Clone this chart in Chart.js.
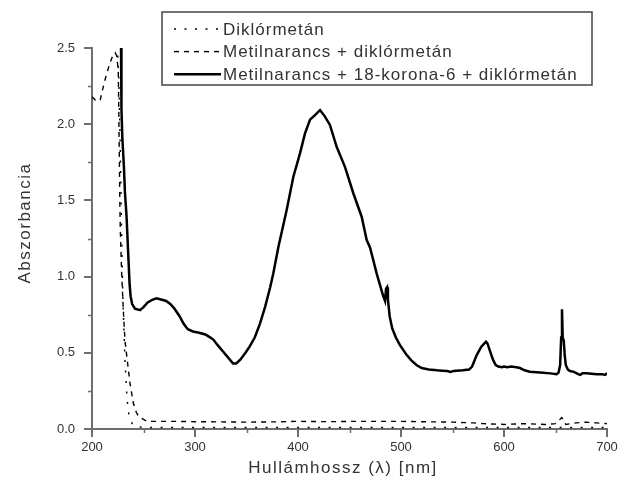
<!DOCTYPE html>
<html><head><meta charset="utf-8">
<script src="https://cdn.jsdelivr.net/npm/chart.js@4/dist/chart.umd.min.js"></script>
<style>html,body{margin:0;padding:0;background:#fff}</style>
</head><body>
<canvas id="c" width="621" height="487"></canvas>
<script>
const seriesLabels = ['Diklórmetán', 'Metilnarancs + diklórmetán', 'Metilnarancs + 18-korona-6 + diklórmetán'];
const xTitle = 'Hullámhossz (λ) [nm]';
const yTitle = 'Abszorbancia';

// Diklórmetán (dotted)
const dcmX = [225, 226, 227, 228, 229, 230, 232, 234, 236, 240, 250, 300, 350, 400, 450, 500, 550, 600, 650, 700];
const dcmY = [2.45, 2.3, 2.0, 1.6, 1.2, 0.85, 0.45, 0.2, 0.08, 0.02, 0.01, 0.01, 0.01, 0.01, 0.01, 0.01, 0.01, 0.01, 0.01, 0.01];

// Metilnarancs + diklórmetán (dashed)
const moX = [200, 203, 206, 208, 210, 213, 216, 219, 221, 222.5, 224, 225.5, 226, 226.5, 227, 227.5, 228.8, 230.4, 232, 234.6, 236.9, 240.1, 243, 245, 248.2, 252, 258, 270, 280, 300, 320, 350, 380, 400, 430, 450, 480, 500, 520, 550, 570, 580, 600, 620, 640, 650, 654, 656, 658, 660, 670, 680, 690, 700];
const moY = [2.18, 2.16, 2.15, 2.16, 2.22, 2.3, 2.37, 2.43, 2.46, 2.47, 2.45, 2.35, 2.1, 1.8, 1.5, 1.3, 1.02, 0.78, 0.58, 0.43, 0.30, 0.17, 0.11, 0.085, 0.07, 0.055, 0.05, 0.05, 0.05, 0.048, 0.047, 0.045, 0.047, 0.05, 0.048, 0.05, 0.05, 0.05, 0.048, 0.045, 0.04, 0.035, 0.03, 0.035, 0.03, 0.035, 0.06, 0.075, 0.06, 0.03, 0.04, 0.045, 0.04, 0.035];

// Metilnarancs + 18-korona-6 + diklórmetán (solid)
const crX = [228.2, 228.6, 229.5, 231, 232, 233.5, 234.5, 235.5, 236.5, 237.5, 239, 241.7, 246.6, 250, 254, 258, 262.5, 267, 272, 276, 280, 285, 289, 293, 298, 304, 310, 315, 318, 322, 327, 332, 337, 340, 344, 349, 353, 358, 363, 368, 373, 376, 381, 389, 395.5, 402, 406.8, 411.7, 416.5, 421.4, 426.2, 431, 437.6, 445.6, 453.7, 461.8, 466.7, 470, 476.4, 482.8, 484.5, 485.5, 486.5, 487.3, 489, 491.5, 495, 499, 505, 510, 515, 520, 527, 535, 540, 545, 548, 551, 560, 566, 569, 573.5, 578, 582.5, 584, 587, 589.6, 592, 594.5, 598, 600, 603, 607, 612, 615.5, 620, 625, 635, 645, 651, 653, 654.5, 655.5, 656.3, 657, 658, 659, 660, 662, 664, 668, 672, 674, 676, 680, 690, 695, 698, 700];
const crY = [2.5, 2.1, 1.9, 1.72, 1.55, 1.4, 1.25, 1.1, 0.95, 0.87, 0.82, 0.79, 0.78, 0.8, 0.83, 0.846, 0.857, 0.85, 0.84, 0.82, 0.79, 0.74, 0.69, 0.655, 0.64, 0.632, 0.62, 0.6, 0.585, 0.55, 0.51, 0.47, 0.43, 0.43, 0.455, 0.5, 0.54, 0.6, 0.69, 0.8, 0.93, 1.02, 1.196, 1.437, 1.655, 1.81, 1.94, 2.03, 2.06, 2.093, 2.05, 1.995, 1.85, 1.72, 1.547, 1.393, 1.24, 1.19, 1.02, 0.87, 0.84, 0.92, 0.93, 0.85, 0.74, 0.66, 0.6, 0.55, 0.49, 0.45, 0.42, 0.40, 0.39, 0.385, 0.383, 0.38, 0.375, 0.38, 0.385, 0.39, 0.41, 0.485, 0.54, 0.573, 0.56, 0.5, 0.45, 0.42, 0.41, 0.405, 0.41, 0.405, 0.41, 0.405, 0.40, 0.385, 0.376, 0.37, 0.365, 0.36, 0.37, 0.42, 0.6, 0.785, 0.6, 0.58, 0.48, 0.42, 0.39, 0.38, 0.375, 0.36, 0.355, 0.365, 0.365, 0.36, 0.36, 0.355, 0.365];

const xMin = 200, xMax = 700, xStep = 100;
const yMin = 0, yMax = 2.5, yStep = 0.5;

const pts = (xs, ys) => xs.map((x, i) => ({x, y: ys[i]}));
const FONT = "'Liberation Sans', Arial, sans-serif";
const AXIS = '#6e6e6e';
const TEXT = '#333';

const styles = [
  {borderDash: [2, 8.5], borderWidth: 1.4},
  {borderDash: [5, 5], borderWidth: 1.4},
  {borderDash: [], borderWidth: 2.5}
];

const minorTicks = {
  id: 'minorTicks',
  beforeDatasetsDraw(chart) {
    const ctx = chart.ctx, xs = chart.scales.x, ys = chart.scales.y, a = chart.chartArea;
    ctx.save();
    ctx.strokeStyle = AXIS; ctx.lineWidth = 1.5;
    ctx.beginPath();
    for (let v = xMin + xStep / 2; v < xMax; v += xStep) {
      const px = Math.round(xs.getPixelForValue(v)) + 0.5;
      ctx.moveTo(px, a.bottom); ctx.lineTo(px, a.bottom + 4);
    }
    for (let v = yMin + yStep / 2; v < yMax; v += yStep) {
      const py = Math.round(ys.getPixelForValue(v)) + 0.5;
      ctx.moveTo(a.left, py); ctx.lineTo(a.left - 4, py);
    }
    ctx.stroke();
    // axis titles
    ctx.letterSpacing = '1.5px';
    ctx.font = '17px ' + FONT;
    ctx.fillStyle = TEXT;
    ctx.textAlign = 'center';
    ctx.textBaseline = 'middle';
    ctx.fillText(xTitle, 343, 468);
    ctx.translate(25, 223);
    ctx.rotate(-Math.PI / 2);
    ctx.fillText(yTitle, 0, 0);
    ctx.restore();
    ctx.letterSpacing = '0px';
  }
};

const boxLegend = {
  id: 'boxLegend',
  afterDraw(chart) {
    const ctx = chart.ctx;
    const L = 162, T = 12, R = 592, B = 85;
    ctx.save();
    ctx.fillStyle = '#fff';
    ctx.fillRect(L, T, R - L, B - T);
    ctx.strokeStyle = '#444'; ctx.lineWidth = 1.5;
    ctx.strokeRect(L, T, R - L, B - T);
    ctx.letterSpacing = '1px';
    ctx.font = '17px ' + FONT;
    ctx.textBaseline = 'middle';
    ctx.fillStyle = TEXT;
    chart.data.datasets.forEach((ds, i) => {
      const y = 29 + i * 22.6;
      ctx.strokeStyle = '#000';
      ctx.lineWidth = ds.borderWidth;
      ctx.setLineDash(ds.borderDash);
      ctx.beginPath(); ctx.moveTo(174, y); ctx.lineTo(221, y); ctx.stroke();
      ctx.setLineDash([]);
      ctx.fillText(ds.label, 223, y + 1);
    });
    ctx.restore();
    ctx.letterSpacing = '0px';
  }
};

new Chart(document.getElementById('c'), {
  type: 'line',
  data: {
    datasets: [
      {label: seriesLabels[0], data: pts(dcmX, dcmY), order: 2},
      {label: seriesLabels[1], data: pts(moX, moY), order: 1},
      {label: seriesLabels[2], data: pts(crX, crY), order: 0}
    ].map((d, i) => Object.assign(d, styles[i], {borderColor: '#000', backgroundColor: '#000', pointRadius: 0, fill: false, tension: 0}))
  },
  options: {
    responsive: false,
    devicePixelRatio: 1,
    animation: false,
    layout: {padding: {top: 48, right: 14, left: 0, bottom: 0}},
    plugins: {legend: {display: false}, tooltip: {enabled: false}},
    scales: {
      x: {
        type: 'linear', min: xMin, max: xMax,
        afterFit: s => { s.height = 58; },
        ticks: {stepSize: xStep, font: {family: FONT, size: 13}, color: TEXT, padding: 3, maxRotation: 0},
        grid: {drawOnChartArea: false, drawTicks: true, tickLength: 8, color: AXIS, lineWidth: 2},
        border: {display: true, color: AXIS, width: 2},
        title: {display: false, text: xTitle}
      },
      y: {
        type: 'linear', min: yMin, max: yMax,
        afterFit: s => { s.width = 92; },
        ticks: {stepSize: yStep, callback: v => v.toFixed(1), font: {family: FONT, size: 13}, color: TEXT, padding: 9},
        grid: {drawOnChartArea: false, drawTicks: true, tickLength: 8, color: AXIS, lineWidth: 2},
        border: {display: true, color: AXIS, width: 2},
        title: {display: false, text: yTitle}
      }
    }
  },
  plugins: [minorTicks, boxLegend]
});
</script>
</body></html>
